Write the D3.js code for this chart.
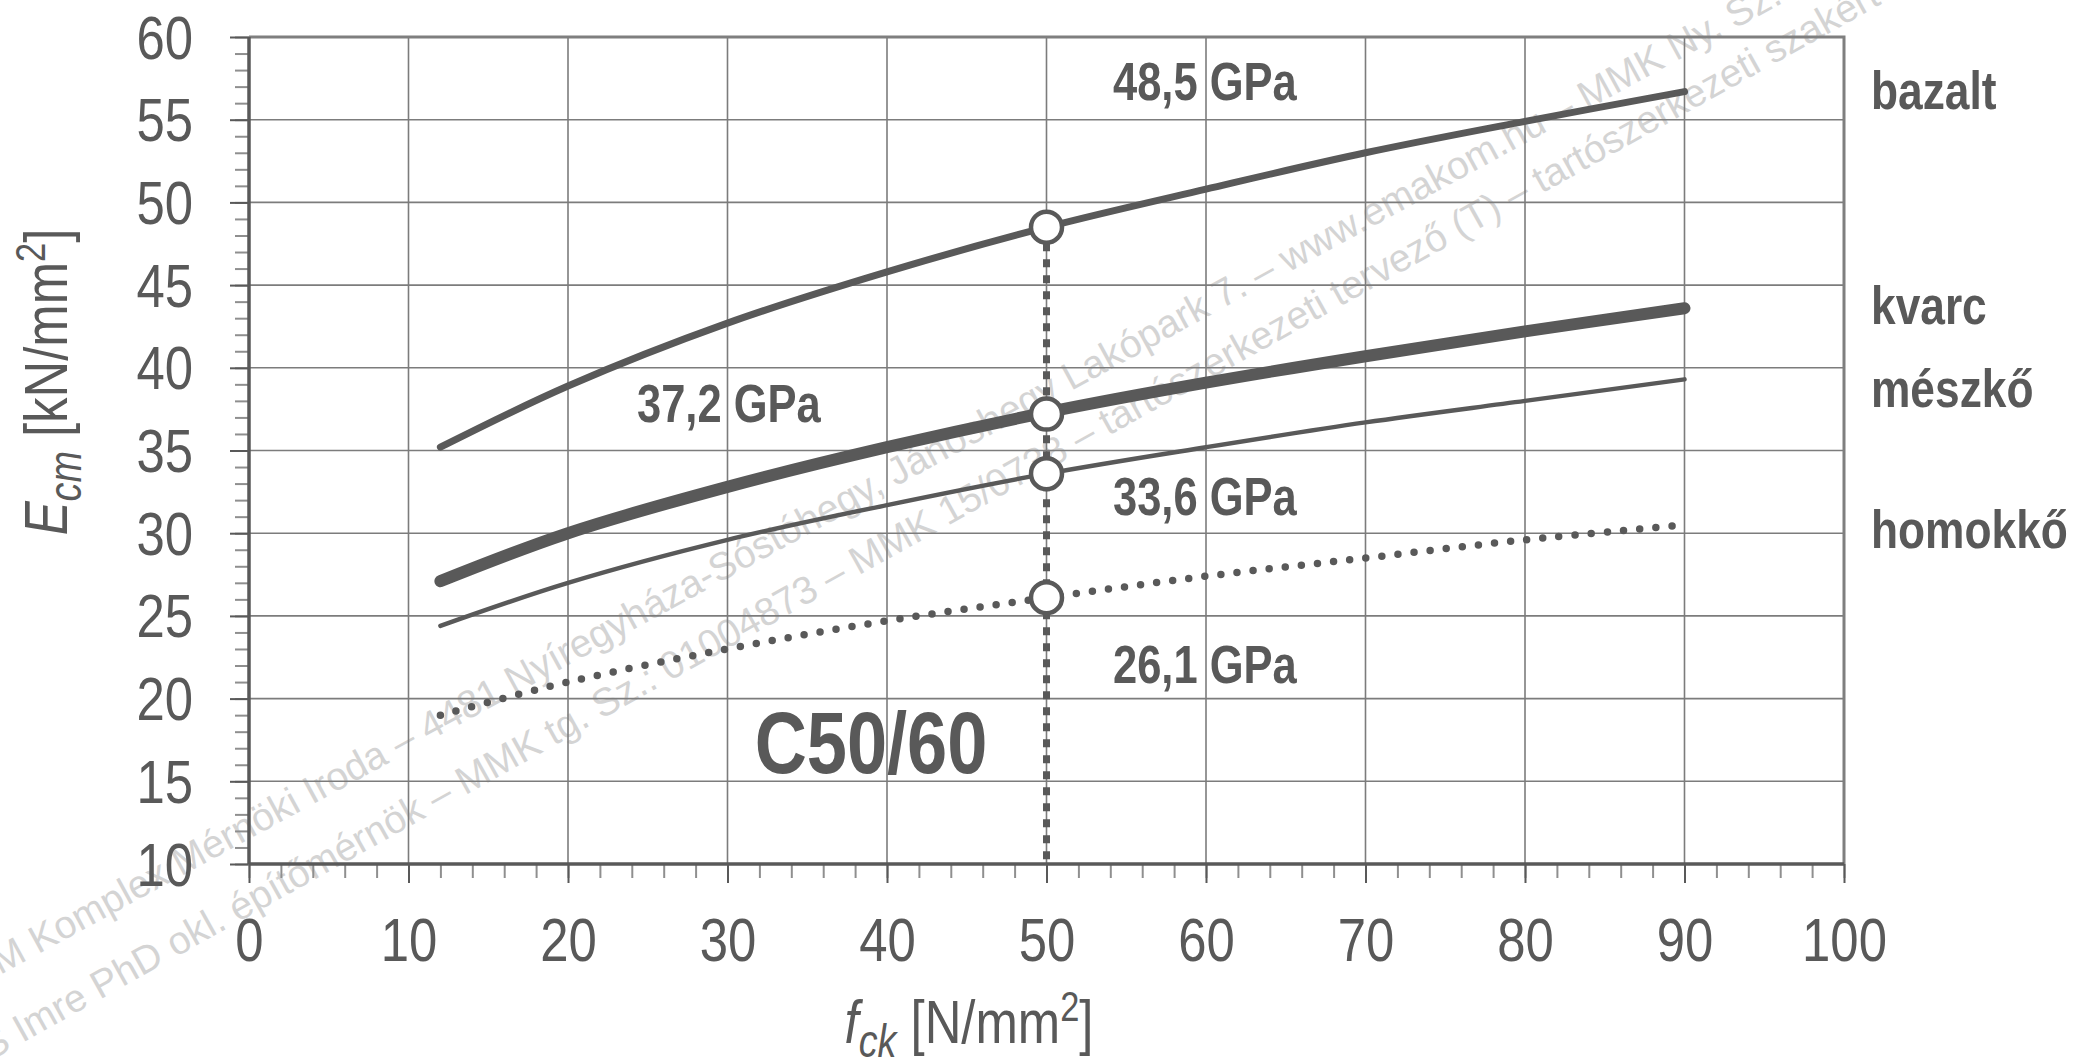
<!DOCTYPE html>
<html>
<head>
<meta charset="utf-8">
<script src="https://cdn.jsdelivr.net/npm/d3@7"></script>
<style>
  html, body { margin: 0; padding: 0; background: #fff; }
  svg { display: block; }
  .nar { font-family: "Liberation Sans", Arial, sans-serif; }
</style>
</head>
<body>
<svg id="chart" width="2090" height="1059"></svg>
<script>
// ---------------- data ----------------
const fck = [12, 20, 30, 40, 50, 60, 70, 80, 90];
const bazalt  = [35.2, 38.9, 42.7, 45.8, 48.5, 50.8, 53.0, 54.9, 56.7];
const kvarc   = [27.1, 30.0, 32.8, 35.2, 37.3, 39.1, 40.7, 42.2, 43.6];
const meszko  = [24.4, 27.0, 29.6, 31.7, 33.6, 35.2, 36.7, 38.0, 39.3];
const homokko = [19.0, 21.0, 23.0, 24.7, 26.1, 27.4, 28.5, 29.6, 30.5];
const seriesNames = ["bazalt", "kvarc", "mészkő", "homokkő"];
const markerX = 50;
const markerValues = [48.5, 37.2, 33.6, 26.1];
const markerLabels = ["48,5 GPa", "37,2 GPa", "33,6 GPa", "26,1 GPa"];
const classLabel = "C50/60";
const xTicks = [0, 10, 20, 30, 40, 50, 60, 70, 80, 90, 100];
const yTicks = [10, 15, 20, 25, 30, 35, 40, 45, 50, 55, 60];
const watermark1 = "M Komplex Mérnöki Iroda – 4481 Nyíregyháza-Sóstóhegy, Jánoshegy Lakópark 7. – www.emakom.hu – MMK Ny. Sz.";
const watermark2 = "S Imre PhD okl. építőmérnök – MMK tg. Sz.: 01004873 – MMK 15/0738 – tartószerkezeti tervező (T) – tartószerkezeti szakértő";

// ---------------- layout ----------------
const L = 249, R = 1844, T = 37, B = 864;
const dark = "#595959";
const NARROW = 0.82;
const svg = d3.select("#chart");
const x = d3.scaleLinear().domain([0, 100]).range([L, R]);
const y = d3.scaleLinear().domain([10, 60]).range([B, T]);

// condense text horizontally (narrow face look)
function narrow(sel) {
  sel.each(function () {
    const w = this.getComputedTextLength();
    this.setAttribute("textLength", (w * NARROW).toFixed(2));
    this.setAttribute("lengthAdjust", "spacingAndGlyphs");
  });
}

svg.append("rect").attr("width", 2090).attr("height", 1059).attr("fill", "#fff");

// watermark (behind)
const wm = svg.append("g").attr("font-family", "Liberation Sans, Arial, sans-serif")
  .attr("font-size", 39).attr("fill", "#d4d4d4");
wm.append("text").attr("transform", "translate(0,975) rotate(-28.6)").text(watermark1);
wm.append("text").attr("transform", "translate(-10,1061) rotate(-29.2)").text(watermark2);

// grid
const grid = svg.append("g").attr("stroke", "#7c7c7c").attr("stroke-width", 1.6);
grid.selectAll("line.h").data(yTicks.slice(1, -1)).join("line")
  .attr("x1", L).attr("x2", R).attr("y1", d => y(d)).attr("y2", d => y(d));
grid.selectAll("line.v").data(xTicks.slice(1, -1)).join("line")
  .attr("y1", T).attr("y2", B).attr("x1", d => x(d)).attr("x2", d => x(d));

// frame (top/right)
svg.append("path").attr("d", `M${L},${T}H${R}V${B}`).attr("fill", "none")
  .attr("stroke", "#7f7f7f").attr("stroke-width", 3);

// y axis with minor ticks
const yMinor = d3.range(10, 60.01, 1);
const gyMinor = svg.append("g").attr("transform", `translate(${L},0)`)
  .call(d3.axisLeft(y).tickValues(yMinor).tickSize(14).tickFormat(""));
gyMinor.select(".domain").remove();
gyMinor.selectAll("line").attr("stroke", "#8f8f8f").attr("stroke-width", 2);
const gy = svg.append("g").attr("transform", `translate(${L},0)`)
  .call(d3.axisLeft(y).tickValues(yTicks).tickSize(19).tickPadding(0).tickFormat(d3.format("d")));
gy.select(".domain").attr("stroke", dark).attr("stroke-width", 3.5).attr("d", `M0,${T}V${B}`);
gy.selectAll("line").attr("stroke", dark).attr("stroke-width", 2);
gy.selectAll("text").attr("class", "nar").attr("font-size", 62).attr("fill", dark)
  .attr("x", -56).attr("dy", "0.34em").attr("text-anchor", "end").call(narrow);

// x axis with minor ticks
const xMinor = d3.range(0, 100.01, 2);
const gxMinor = svg.append("g").attr("transform", `translate(0,${B})`)
  .call(d3.axisBottom(x).tickValues(xMinor).tickSize(14).tickFormat(""));
gxMinor.select(".domain").remove();
gxMinor.selectAll("line").attr("stroke", "#8f8f8f").attr("stroke-width", 2);
const gx = svg.append("g").attr("transform", `translate(0,${B})`)
  .call(d3.axisBottom(x).tickValues(xTicks).tickSize(19).tickFormat(d3.format("d")));
gx.select(".domain").attr("stroke", dark).attr("stroke-width", 3.5).attr("d", `M${L},0H${R}`);
gx.selectAll("line").attr("stroke", dark).attr("stroke-width", 2);
gx.selectAll("text").attr("class", "nar").attr("font-size", 62).attr("fill", dark)
  .attr("y", 97).attr("dy", 0).call(narrow);

// curves
const line = d3.line().x(d => x(d[0])).y(d => y(d[1])).curve(d3.curveCatmullRom.alpha(0.5));
const zipS = arr => fck.map((f, i) => [f, arr[i]]);
const curves = svg.append("g").attr("fill", "none").attr("stroke", dark).attr("stroke-linecap", "round");
curves.append("path").attr("d", line(zipS(bazalt))).attr("stroke-width", 7);
curves.append("path").attr("d", line(zipS(kvarc))).attr("stroke-width", 12);
curves.append("path").attr("d", line(zipS(meszko))).attr("stroke-width", 4.5);
curves.append("path").attr("d", line(zipS(homokko))).attr("stroke-width", 7.5)
  .attr("stroke-dasharray", "0 16.2");

// vertical dashed marker line
svg.append("line").attr("x1", x(markerX)).attr("x2", x(markerX))
  .attr("y1", y(markerValues[0])).attr("y2", y(10))
  .attr("stroke", dark).attr("stroke-width", 7).attr("stroke-dasharray", "8 8");

// markers
svg.append("g").selectAll("circle").data(markerValues).join("circle")
  .attr("cx", x(markerX)).attr("cy", d => y(d)).attr("r", 15.5)
  .attr("fill", "#fff").attr("stroke", dark).attr("stroke-width", 4.5);

// value labels
const labelPos = [[1113, 100], [637, 422], [1113, 515], [1113, 683]];
svg.append("g").selectAll("text").data(markerLabels).join("text")
  .attr("class", "nar").attr("font-weight", "bold").attr("font-size", 53).attr("fill", dark)
  .attr("x", (d, i) => labelPos[i][0]).attr("y", (d, i) => labelPos[i][1]).text(d => d).call(narrow);

// class label
svg.append("text").attr("class", "nar").attr("font-weight", "bold").attr("font-size", 88)
  .attr("fill", dark).attr("text-anchor", "middle").attr("x", 871).attr("y", 773).text(classLabel).call(narrow);

// series names on right
const namePos = [109, 324, 407, 548];
svg.append("g").selectAll("text").data(seriesNames).join("text")
  .attr("class", "nar").attr("font-weight", "bold").attr("font-size", 54).attr("fill", dark)
  .attr("x", 1871).attr("y", (d, i) => namePos[i]).text(d => d).call(narrow);

// axis titles
const yt = svg.append("text").attr("class", "nar").attr("font-size", 62).attr("fill", dark)
  .attr("text-anchor", "middle").attr("transform", "translate(67,382) rotate(-90)");
yt.append("tspan").attr("font-style", "italic").text("E");
yt.append("tspan").attr("font-style", "italic").attr("font-size", 46).attr("dy", 14).text("cm");
yt.append("tspan").attr("dy", -14).text(" [kN/mm");
yt.append("tspan").attr("font-size", 42).attr("dy", -22).text("2");
yt.append("tspan").attr("dy", 22).text("]");
yt.call(narrow);

const xt = svg.append("text").attr("class", "nar").attr("font-size", 62).attr("fill", dark)
  .attr("text-anchor", "middle").attr("transform", "translate(969,1043)");
xt.append("tspan").attr("font-style", "italic").text("f");
xt.append("tspan").attr("font-style", "italic").attr("font-size", 46).attr("dy", 14).text("ck");
xt.append("tspan").attr("dy", -14).text(" [N/mm");
xt.append("tspan").attr("font-size", 42).attr("dy", -22).text("2");
xt.append("tspan").attr("dy", 22).text("]");
xt.call(narrow);
</script>
</body>
</html>
